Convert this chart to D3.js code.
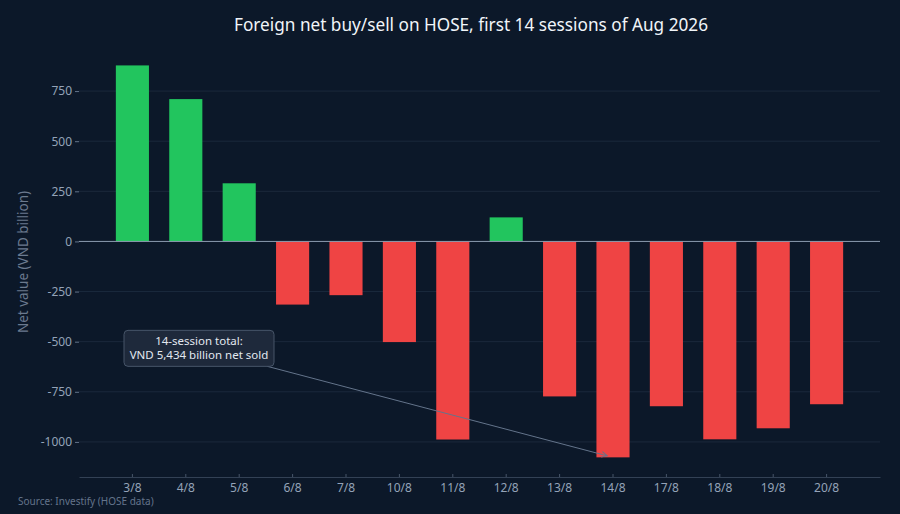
<!DOCTYPE html>
<html>
<head>
<meta charset="utf-8">
<script src="https://cdn.jsdelivr.net/npm/d3@7"></script>
<style>
  html, body { margin: 0; padding: 0; background: #0c1829; }
  #chart { width: 900px; height: 514px; }
  text { font-family: "Noto Sans", "Open Sans", sans-serif; }
</style>
</head>
<body>
<div id="chart"></div>
<script>

// sessions (day/month) and net foreign value, VND billion
const sessions = ["3/8", "4/8", "5/8", "6/8", "7/8", "10/8", "11/8", "12/8", "13/8", "14/8", "17/8", "18/8", "19/8", "20/8"];
const netValues = [878, 710, 290, -315, -268, -502, -988, 120, -773, -1077, -822, -987, -932, -812];
const yTicks = [-1000, -750, -500, -250, 0, 250, 500, 750];
const noteLines = ["14-session total:", "VND 5,434 billion net sold"];
const noteSession = "14/8";

const width = 900;
const height = 514;
const margin = { top: 59, right: 20, bottom: 37, left: 79 };

const svg = d3.select("#chart")
    .append("svg")
    .attr("width", width)
    .attr("height", height);

svg.append("rect")
    .attr("width", width)
    .attr("height", height)
    .attr("fill", "#0c1829");

const x = d3.scaleBand()
    .domain(sessions)
    .range([margin.left, width - margin.right])
    .paddingInner(0.38)
    .paddingOuter(0.69);

const y = d3.scaleLinear()
    .domain([-1175, 910])
    .range([height - margin.bottom, margin.top]);

// grid
svg.selectAll("line.grid")
    .data(yTicks.filter(d => d !== 0))
    .enter()
    .append("line")
    .attr("class", "grid")
    .attr("x1", margin.left)
    .attr("x2", width - margin.right)
    .attr("y1", d => y(d))
    .attr("y2", d => y(d))
    .attr("stroke", "#1b293c")
    .attr("stroke-width", 1);

// y axis
const yAxis = svg.append("g")
    .attr("transform", `translate(${margin.left},0)`)
    .call(d3.axisLeft(y).tickValues(yTicks).tickFormat(d => String(d)).tickSize(4).tickPadding(3));
yAxis.select(".domain").remove();
yAxis.selectAll(".tick line").attr("stroke", "#64748b");
yAxis.selectAll(".tick text")
    .attr("fill", "#94a3b8")
    .attr("font-size", 12)
    .style("font-family", "'Noto Sans', sans-serif");

// x axis
const xAxis = svg.append("g")
    .attr("transform", `translate(0,${height - margin.bottom})`)
    .call(d3.axisBottom(x).tickSizeInner(-3).tickSizeOuter(0).tickPadding(6));
xAxis.select(".domain").attr("stroke", "#334155");
xAxis.selectAll(".tick line").attr("stroke", "#475569");
xAxis.selectAll(".tick text")
    .attr("fill", "#94a3b8")
    .attr("font-size", 12)
    .style("font-family", "'Noto Sans', sans-serif");

// bars
svg.selectAll("rect.bar")
    .data(sessions.map((s, i) => ({ session: s, value: netValues[i] })))
    .enter()
    .append("rect")
    .attr("class", "bar")
    .attr("x", d => x(d.session))
    .attr("width", x.bandwidth())
    .attr("y", d => y(Math.max(0, d.value)))
    .attr("height", d => Math.abs(y(d.value) - y(0)))
    .attr("fill", d => d.value >= 0 ? "#22c55e" : "#ef4444");

// zero line
svg.append("line")
    .attr("x1", margin.left)
    .attr("x2", width - margin.right)
    .attr("y1", y(0))
    .attr("y2", y(0))
    .attr("stroke", "#8d9cb0")
    .attr("stroke-width", 1);

// annotation, placed by offset from the arrow target like plotly's ax/ay
const target = [x(noteSession) + x.bandwidth() / 2, y(netValues[sessions.indexOf(noteSession)])];
const boxC = [target[0] - 414, target[1] - 109];
const boxW = 150, boxH = 36;

const dx = target[0] - boxC[0], dy = target[1] - boxC[1];
const len = Math.sqrt(dx * dx + dy * dy);
// leave the box at its edge
const tEdge = Math.min((boxW / 2) / Math.abs(dx), (boxH / 2) / Math.abs(dy));
const standoff = 6;
const start = [boxC[0] + dx * tEdge, boxC[1] + dy * tEdge];
const end = [target[0] - dx / len * standoff, target[1] - dy / len * standoff];

svg.append("defs").append("marker")
    .attr("id", "head")
    .attr("viewBox", "0 0 10 10")
    .attr("refX", 9)
    .attr("refY", 5)
    .attr("markerWidth", 7)
    .attr("markerHeight", 7)
    .attr("orient", "auto")
    .append("path")
    .attr("d", "M1,1 L9,5 L1,9")
    .attr("fill", "none")
    .attr("stroke", "#64748b")
    .attr("stroke-width", 1.4);

svg.append("line")
    .attr("x1", start[0])
    .attr("y1", start[1])
    .attr("x2", end[0])
    .attr("y2", end[1])
    .attr("stroke", "#64748b")
    .attr("stroke-width", 1)
    .attr("marker-end", "url(#head)");

svg.append("rect")
    .attr("x", boxC[0] - boxW / 2)
    .attr("y", boxC[1] - boxH / 2)
    .attr("width", boxW)
    .attr("height", boxH)
    .attr("rx", 4)
    .attr("fill", "#1e293b")
    .attr("stroke", "#475569")
    .attr("stroke-width", 1);

svg.selectAll("text.note")
    .data(noteLines)
    .enter()
    .append("text")
    .attr("class", "note")
    .attr("x", boxC[0])
    .attr("y", (d, i) => boxC[1] - 3 + i * 14)
    .attr("text-anchor", "middle")
    .attr("font-size", 11.5)
    .attr("fill", "#e2e8f0")
    .text(d => d);

// title
svg.append("text")
    .attr("x", 471)
    .attr("y", 31)
    .attr("text-anchor", "middle")
    .attr("font-size", 17.2)
    .attr("fill", "#f1f5f9")
    .text("Foreign net buy/sell on HOSE, first 14 sessions of Aug 2026");

// y title
svg.append("text")
    .attr("transform", "translate(28,262) rotate(-90)")
    .attr("text-anchor", "middle")
    .attr("font-size", 13.5)
    .attr("fill", "#6b7a8f")
    .text("Net value (VND billion)");

// source
svg.append("text")
    .attr("x", 18)
    .attr("y", 505)
    .attr("font-size", 10)
    .attr("fill", "#64748b")
    .text("Source: Investify (HOSE data)");

</script>
</body>
</html>
